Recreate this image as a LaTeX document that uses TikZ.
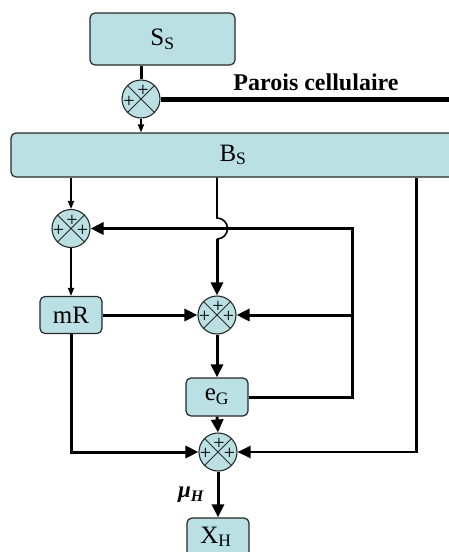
\documentclass[tikz,border=0pt]{standalone}
\usepackage{fontspec}
\setmainfont{Liberation Serif}
\usetikzlibrary{arrows.meta,calc}
\definecolor{boxfill}{RGB}{186,224,227}
\definecolor{edgec}{RGB}{40,40,40}
\begin{document}
\begin{tikzpicture}[x=1pt,y=1pt,
  blk/.style={draw=edgec, line width=1.2pt, fill=boxfill, rounded corners=5pt, inner sep=0pt, font=\fontsize{25}{30}\selectfont},
  sumc/.style={circle, draw=edgec, line width=1.1pt, fill=boxfill, minimum size=38pt, inner sep=0pt,
    path picture={\draw[edgec,line width=1pt] (path picture bounding box.north west) -- (path picture bounding box.south east)
      (path picture bounding box.north east) -- (path picture bounding box.south west);}},
  pl/.style={inner sep=0pt, font=\fontsize{20}{20}\selectfont},
  thn/.style={line width=1.6pt, -{Triangle[length=8pt,width=6pt]}},
  thk/.style={line width=3pt, -{Triangle[length=13pt,width=12pt]}},
  med/.style={line width=2.5pt, -{Triangle[length=13pt,width=12pt]}},
]
\useasboundingbox (0,0) rectangle (448,-552);

% coordinates for vertical feedback lines
\coordinate (lx) at (352,0);
\coordinate (rx) at (416.7,0);
\coordinate (pend) at (452,-99);

% blocks
\node[blk, minimum width=145pt, minimum height=52pt] (SS) at (162.5,-39) {S\textsubscript{S}};
\node[blk, minimum width=444pt, minimum height=44pt] (BS) at (233,-155) {B\textsubscript{S}};
\node[blk, minimum width=62pt, minimum height=37pt] (mR) at (71,-315) {mR};
\node[blk, minimum width=62pt, minimum height=38pt] (eG) at (217,-397) {\raisebox{-3pt}{e\textsubscript{G}}\hspace{12pt}};
\node[blk, minimum width=62pt, minimum height=44pt] (XH) at (218,-540) {};
\node[anchor=base, inner sep=0pt, font=\fontsize{25}{30}\selectfont] (XHt) at (216,-543) {X\textsubscript{H}};

% summing junctions
\node[sumc] (c0) at (141,-99) {};
\node[pl] (c0t) at ($(c0)+(2,8)$) {+};
\node[pl] (c0l) at ($(c0)+(-12,-3)$) {+};

\node[sumc] (c1) at (71,-228.5) {};
\node[pl] (c1t) at ($(c1)+(1,8)$) {+};
\node[pl] (c1l) at ($(c1)+(-12.5,-2)$) {+};
\node[pl] (c1r) at ($(c1)+(11.5,-2)$) {+};

\node[sumc] (c2) at (217,-315) {};
\node[pl] (c2t) at ($(c2)+(1,8)$) {+};
\node[pl] (c2l) at ($(c2)+(-12.5,-2)$) {+};
\node[pl] (c2r) at ($(c2)+(11.5,-2)$) {+};

\node[sumc] (c3) at (218,-452) {};
\node[pl] (c3t) at ($(c3)+(1,8)$) {+};
\node[pl] (c3l) at ($(c3)+(-12.5,-2)$) {+};
\node[pl] (c3r) at ($(c3)+(11.5,-2)$) {+};

% labels
\node[anchor=base, inner sep=0pt, font=\fontsize{24}{28}\selectfont\bfseries] (parois) at (316,-90) {Parois cellulaire};
\node[inner sep=0pt, font=\fontsize{23}{26}\selectfont\bfseries\itshape] (mu) at (191,-495) {μ\textsubscript{H}};

% connectors
\draw[line width=3pt] (SS.south -| c0) -- (c0.north);
\draw[line width=5pt] (c0.east) -- (pend);
\draw[thn] (c0.south) -- (c0 |- BS.north);
\draw[thn] (c1 |- BS.south) -- (c1.north);
\draw[thn] (c1.south) -- (mR.north);
\draw[line width=1.6pt] (c2 |- BS.south) -- ($(c2 |- c1)+(0,10.5)$) coordinate (j1)
  arc[start angle=90, end angle=-90, radius=10.5] coordinate (j2);
\draw[thk] (j2) -- (c2.north);
\draw[thk] (eG.east) -| (c1 -| lx) -- (c1.east);
\draw[thk] (c2 -| lx) -- (c2.east);
\draw[thk] (mR.east) -- (c2.west);
\draw[thk] (c2.south) -- (eG.north);
\draw[thk] (eG.south) -- (c3.north);
\draw[thk] (mR.south) |- (c3.west);
\draw[med] (rx |- BS.south) |- (c3.east);
\draw[thk] (c3.south) -- (XH.north);
\end{tikzpicture}
\end{document}
